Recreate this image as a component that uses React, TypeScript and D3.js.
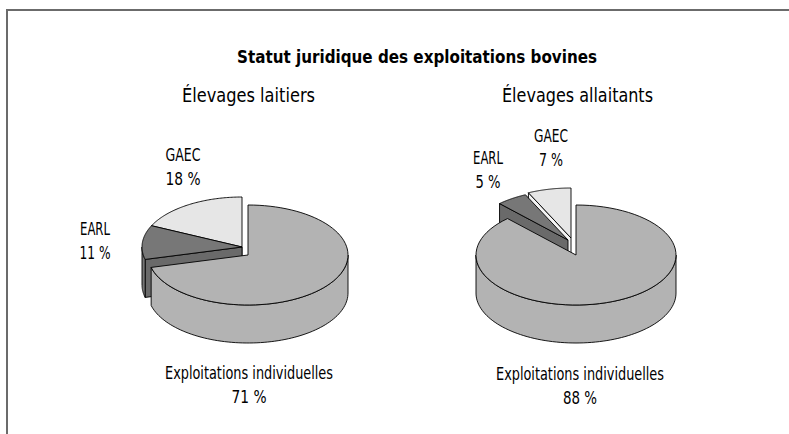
import * as d3 from 'd3';

// chart data
const chartTitle = 'Statut juridique des exploitations bovines';
const pieNames = ['Élevages laitiers', 'Élevages allaitants'];
const categories = ['Exploitations individuelles', 'EARL', 'GAEC'];
const laitiers = [71, 11, 18];
const allaitants = [88, 5, 7];

const topColors = ['#b3b3b3', '#777777', '#e6e6e6'];
const faceColors = ['#adadad', '#6a6a6a', '#f4f4f4'];

const W = 789;
const H = 434;
const RX = 100;
const RY = 50;
const DEPTH = 38;
const FONT = "'DejaVu Sans Condensed', 'Liberation Sans Narrow', sans-serif";

// layout of each pie: centre, explode offsets per slice, label anchors and text widths per slice
const pies = [
  {
    values: laitiers,
    name: pieNames[0],
    cx: 248,
    cy: 255,
    nameX: 248.5,
    nameWidth: 133,
    offsets: [[0, 0], [-6, -8], [-6, -8]],
    labels: [[249, 379], [95, 235], [183, 161]],
    labelWidths: [[168, 35], [30, 31], [35, 35]],
  },
  {
    values: allaitants,
    name: pieNames[1],
    cx: 576,
    cy: 255,
    nameX: 577.5,
    nameWidth: 151,
    offsets: [[0, 0], [-8, -15], [-5, -17]],
    labels: [[580, 380], [488, 164], [551, 142]],
    labelWidths: [[168, 34], [30, 25], [34, 24]],
  },
];

type Pt = [number, number];

function Pie3D({ values, cx, cy, offsets }: { values: number[]; cx: number; cy: number; offsets: number[][] }) {
  const arcs = d3.pie<number>().sort(null)(values);
  const line = d3.line<Pt>();
  const pt = (x0: number, y0: number, a: number, dz = 0): Pt => [
    x0 + RX * Math.sin(a),
    y0 - RY * Math.cos(a) + dz,
  ];
  const arcPts = (x0: number, y0: number, a0: number, a1: number, dz = 0): Pt[] =>
    d3.range(0, 81).map((i) => pt(x0, y0, a0 + ((a1 - a0) * i) / 80, dz));

  // paint back slices first
  const order = arcs
    .map((_, i) => i)
    .sort(
      (i, j) =>
        -Math.cos((arcs[i].startAngle + arcs[i].endAngle) / 2) +
        Math.cos((arcs[j].startAngle + arcs[j].endAngle) / 2)
    );

  const common = { stroke: '#000', strokeWidth: 0.9, strokeLinejoin: 'round' as const };

  return (
    <g>
      {order.map((i) => {
        const a = arcs[i];
        const x0 = cx + offsets[i][0];
        const y0 = cy + offsets[i][1];
        const c: Pt = [x0, y0];
        const cb: Pt = [x0, y0 + DEPTH];
        const faces: Pt[][] = [];
        if (Math.sin(a.startAngle) < -1e-6) {
          faces.push([c, pt(x0, y0, a.startAngle), pt(x0, y0, a.startAngle, DEPTH), cb]);
        }
        if (Math.sin(a.endAngle) > 1e-6) {
          faces.push([c, pt(x0, y0, a.endAngle), pt(x0, y0, a.endAngle, DEPTH), cb]);
        }
        const s = Math.max(a.startAngle, Math.PI / 2);
        const e = Math.min(a.endAngle, (3 * Math.PI) / 2);
        const wall = e > s ? [...arcPts(x0, y0, s, e), ...arcPts(x0, y0, e, s, DEPTH)] : null;
        const top = [c, ...arcPts(x0, y0, a.startAngle, a.endAngle)];
        return (
          <g key={i}>
            {faces.map((f, k) => (
              <path key={k} d={line(f) + 'Z'} fill={faceColors[i]} {...common} />
            ))}
            {wall && <path d={line(wall) + 'Z'} fill={topColors[i]} {...common} />}
            <path d={line(top) + 'Z'} fill={topColors[i]} {...common} />
          </g>
        );
      })}
    </g>
  );
}

function FitText({ x, y, width, size, bold, children }: any) {
  return (
    <text
      x={x - width / 2}
      y={y}
      textLength={width}
      lengthAdjust="spacingAndGlyphs"
      fontSize={size}
      fontWeight={bold ? 'bold' : 'normal'}
      fill="#000"
    >
      {children}
    </text>
  );
}

export default function App() {
  return (
    <svg
      width={W}
      height={H}
      viewBox={`0 0 ${W} ${H}`}
      style={{ position: 'absolute', left: 0, top: 0, background: '#fff' }}
      fontFamily={FONT}
    >
      <rect width={W} height={H} fill="#fff" />
      <path d={`M7,${H + 5}V10H${W + 5}`} fill="none" stroke="#6b6b6b" strokeWidth={2} />
      <FitText x={417} y={63} width={360} size={17.5} bold>
        {chartTitle}
      </FitText>
      {pies.map((p, pi) => (
        <g key={pi}>
          <FitText x={p.nameX} y={102} width={p.nameWidth} size={19}>
            {p.name}
          </FitText>
          <Pie3D values={p.values} cx={p.cx} cy={p.cy} offsets={p.offsets} />
          {p.labels.map(([lx, ly], i) => (
            <g key={i}>
              <FitText x={lx} y={ly} width={p.labelWidths[i][0]} size={17.5}>
                {categories[i]}
              </FitText>
              <FitText x={lx} y={ly + 24} width={p.labelWidths[i][1]} size={17.5}>
                {`${p.values[i]} %`}
              </FitText>
            </g>
          ))}
        </g>
      ))}
    </svg>
  );
}
